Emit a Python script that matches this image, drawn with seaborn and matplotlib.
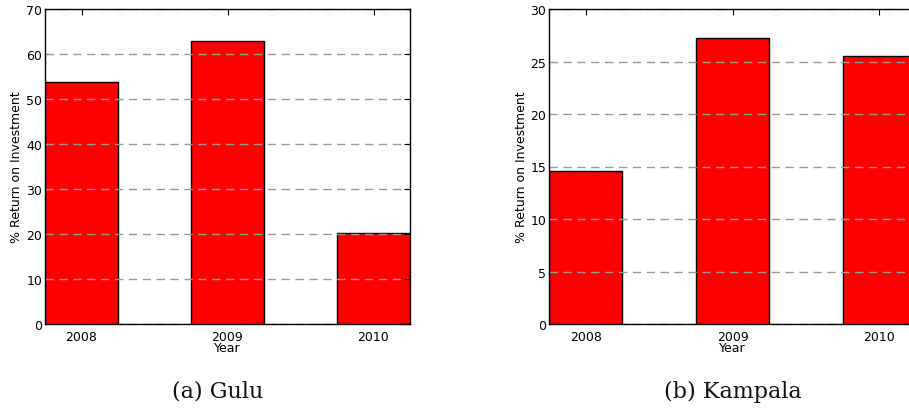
import matplotlib
matplotlib.use("Agg")
import matplotlib.pyplot as plt
import seaborn as sns
import pandas as pd

years = ["2008", "2009", "2010"]
gulu_roi = [53.7, 63.0, 20.2]
kampala_roi = [14.6, 27.2, 25.55]
gulu_yticks = [0, 10, 20, 30, 40, 50, 60, 70]
kampala_yticks = [0, 5, 10, 15, 20, 25, 30]

sns.set_theme(style="white")
plt.rcParams.update({
    "font.family": ["DejaVu Sans"],
    "text.color": "black",
    "axes.labelcolor": "black",
    "xtick.labelcolor": "black",
    "ytick.labelcolor": "black",
    "xtick.direction": "in",
    "ytick.direction": "in",
    "xtick.top": True,
    "ytick.right": True,
    "xtick.major.size": 4,
    "ytick.major.size": 4,
    "xtick.major.width": 0.8,
    "ytick.major.width": 0.8,
    "xtick.major.pad": 4,
    "ytick.major.pad": 2,
    "axes.edgecolor": "black",
    "axes.linewidth": 1.0,
    "xtick.color": "black",
    "ytick.color": "black",
})

fig = plt.figure(figsize=(9.09, 4.10), dpi=100)
ax_left = fig.add_axes([45 / 909, 85 / 410, 365 / 909, 315 / 410])
ax_right = fig.add_axes([549 / 909, 85 / 410, 367 / 909, 315 / 410])


def draw_panel(ax, values, yticks, caption, cap_x):
    df = pd.DataFrame({"Year": years, "ROI": values})
    sns.barplot(data=df, x="Year", y="ROI", color="#ff0000", saturation=1,
                edgecolor="black", linewidth=1.0, width=0.5, ax=ax)
    ax.set_xlim(-0.25, 2.25)
    ax.set_ylim(yticks[0], yticks[-1])
    ax.set_yticks(yticks)
    ax.set_axisbelow(False)
    ax.yaxis.grid(True, color="#999999", linestyle=(0, (6, 4)), linewidth=1.0)
    ax.xaxis.grid(False)
    ax.tick_params(labelsize=9)
    ax.set_xlabel("Year", fontsize=9, labelpad=-1)
    ax.set_ylabel("% Return on Investment", fontsize=9, labelpad=2)
    for s in ax.spines.values():
        s.set_visible(True)
        s.set_color("black")
        s.set_zorder(5)
    fig.text(cap_x, 0.045, caption, ha="center", va="center",
             fontsize=16, family="DejaVu Serif", color="#111111")


draw_panel(ax_left, gulu_roi, gulu_yticks, "(a) Gulu", 218 / 909)
draw_panel(ax_right, kampala_roi, kampala_yticks, "(b) Kampala", 733 / 909)

fig.savefig("out.png", dpi=100)
